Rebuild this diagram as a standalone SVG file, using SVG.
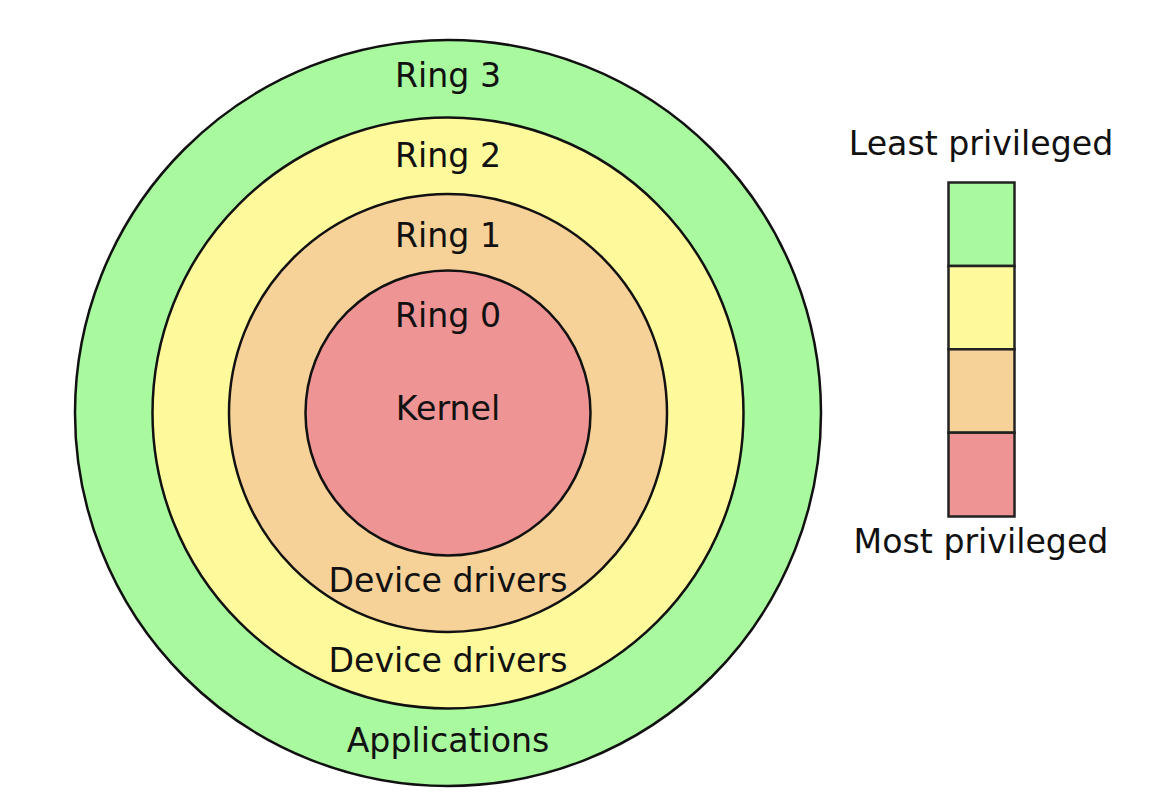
<svg xmlns="http://www.w3.org/2000/svg" width="1156" height="806" viewBox="0 0 1156 806">
<style>
.ring{stroke:#111;stroke-width:2.5}
.lg{stroke:#222;stroke-width:2.5}
text{font-family:"DejaVu Sans",sans-serif;font-size:33.2px;fill:#111;text-anchor:middle}
</style>
<rect width="1156" height="806" fill="#fff"/>
<g id="ring3"><circle class="ring" cx="448" cy="413" r="373" fill="#a9fa9f"/><text x="448" y="87">Ring 3</text><text x="448" y="752">Applications</text></g>
<g id="ring2"><circle class="ring" cx="448" cy="413" r="295.5" fill="#fef99a"/><text x="448" y="167">Ring 2</text><text x="448" y="672">Device drivers</text></g>
<g id="ring1"><circle class="ring" cx="448" cy="413" r="219" fill="#f6d198"/><text x="448" y="247">Ring 1</text><text x="448" y="592">Device drivers</text></g>
<g id="ring0"><circle class="ring" cx="448" cy="413" r="142.5" fill="#ef9494"/><text x="448" y="327">Ring 0</text><text x="448" y="420">Kernel</text></g>
<g id="legend">
<text x="981" y="155">Least privileged</text>
<rect class="lg" x="948.5" y="182.5" width="66" height="83.5" fill="#a9fa9f"/>
<rect class="lg" x="948.5" y="266" width="66" height="83.3" fill="#fef99a"/>
<rect class="lg" x="948.5" y="349.3" width="66" height="83.4" fill="#f6d198"/>
<rect class="lg" x="948.5" y="432.7" width="66" height="83.8" fill="#ef9494"/>
<text x="981" y="553">Most privileged</text>
</g>
<g id="connectors"/>
</svg>
